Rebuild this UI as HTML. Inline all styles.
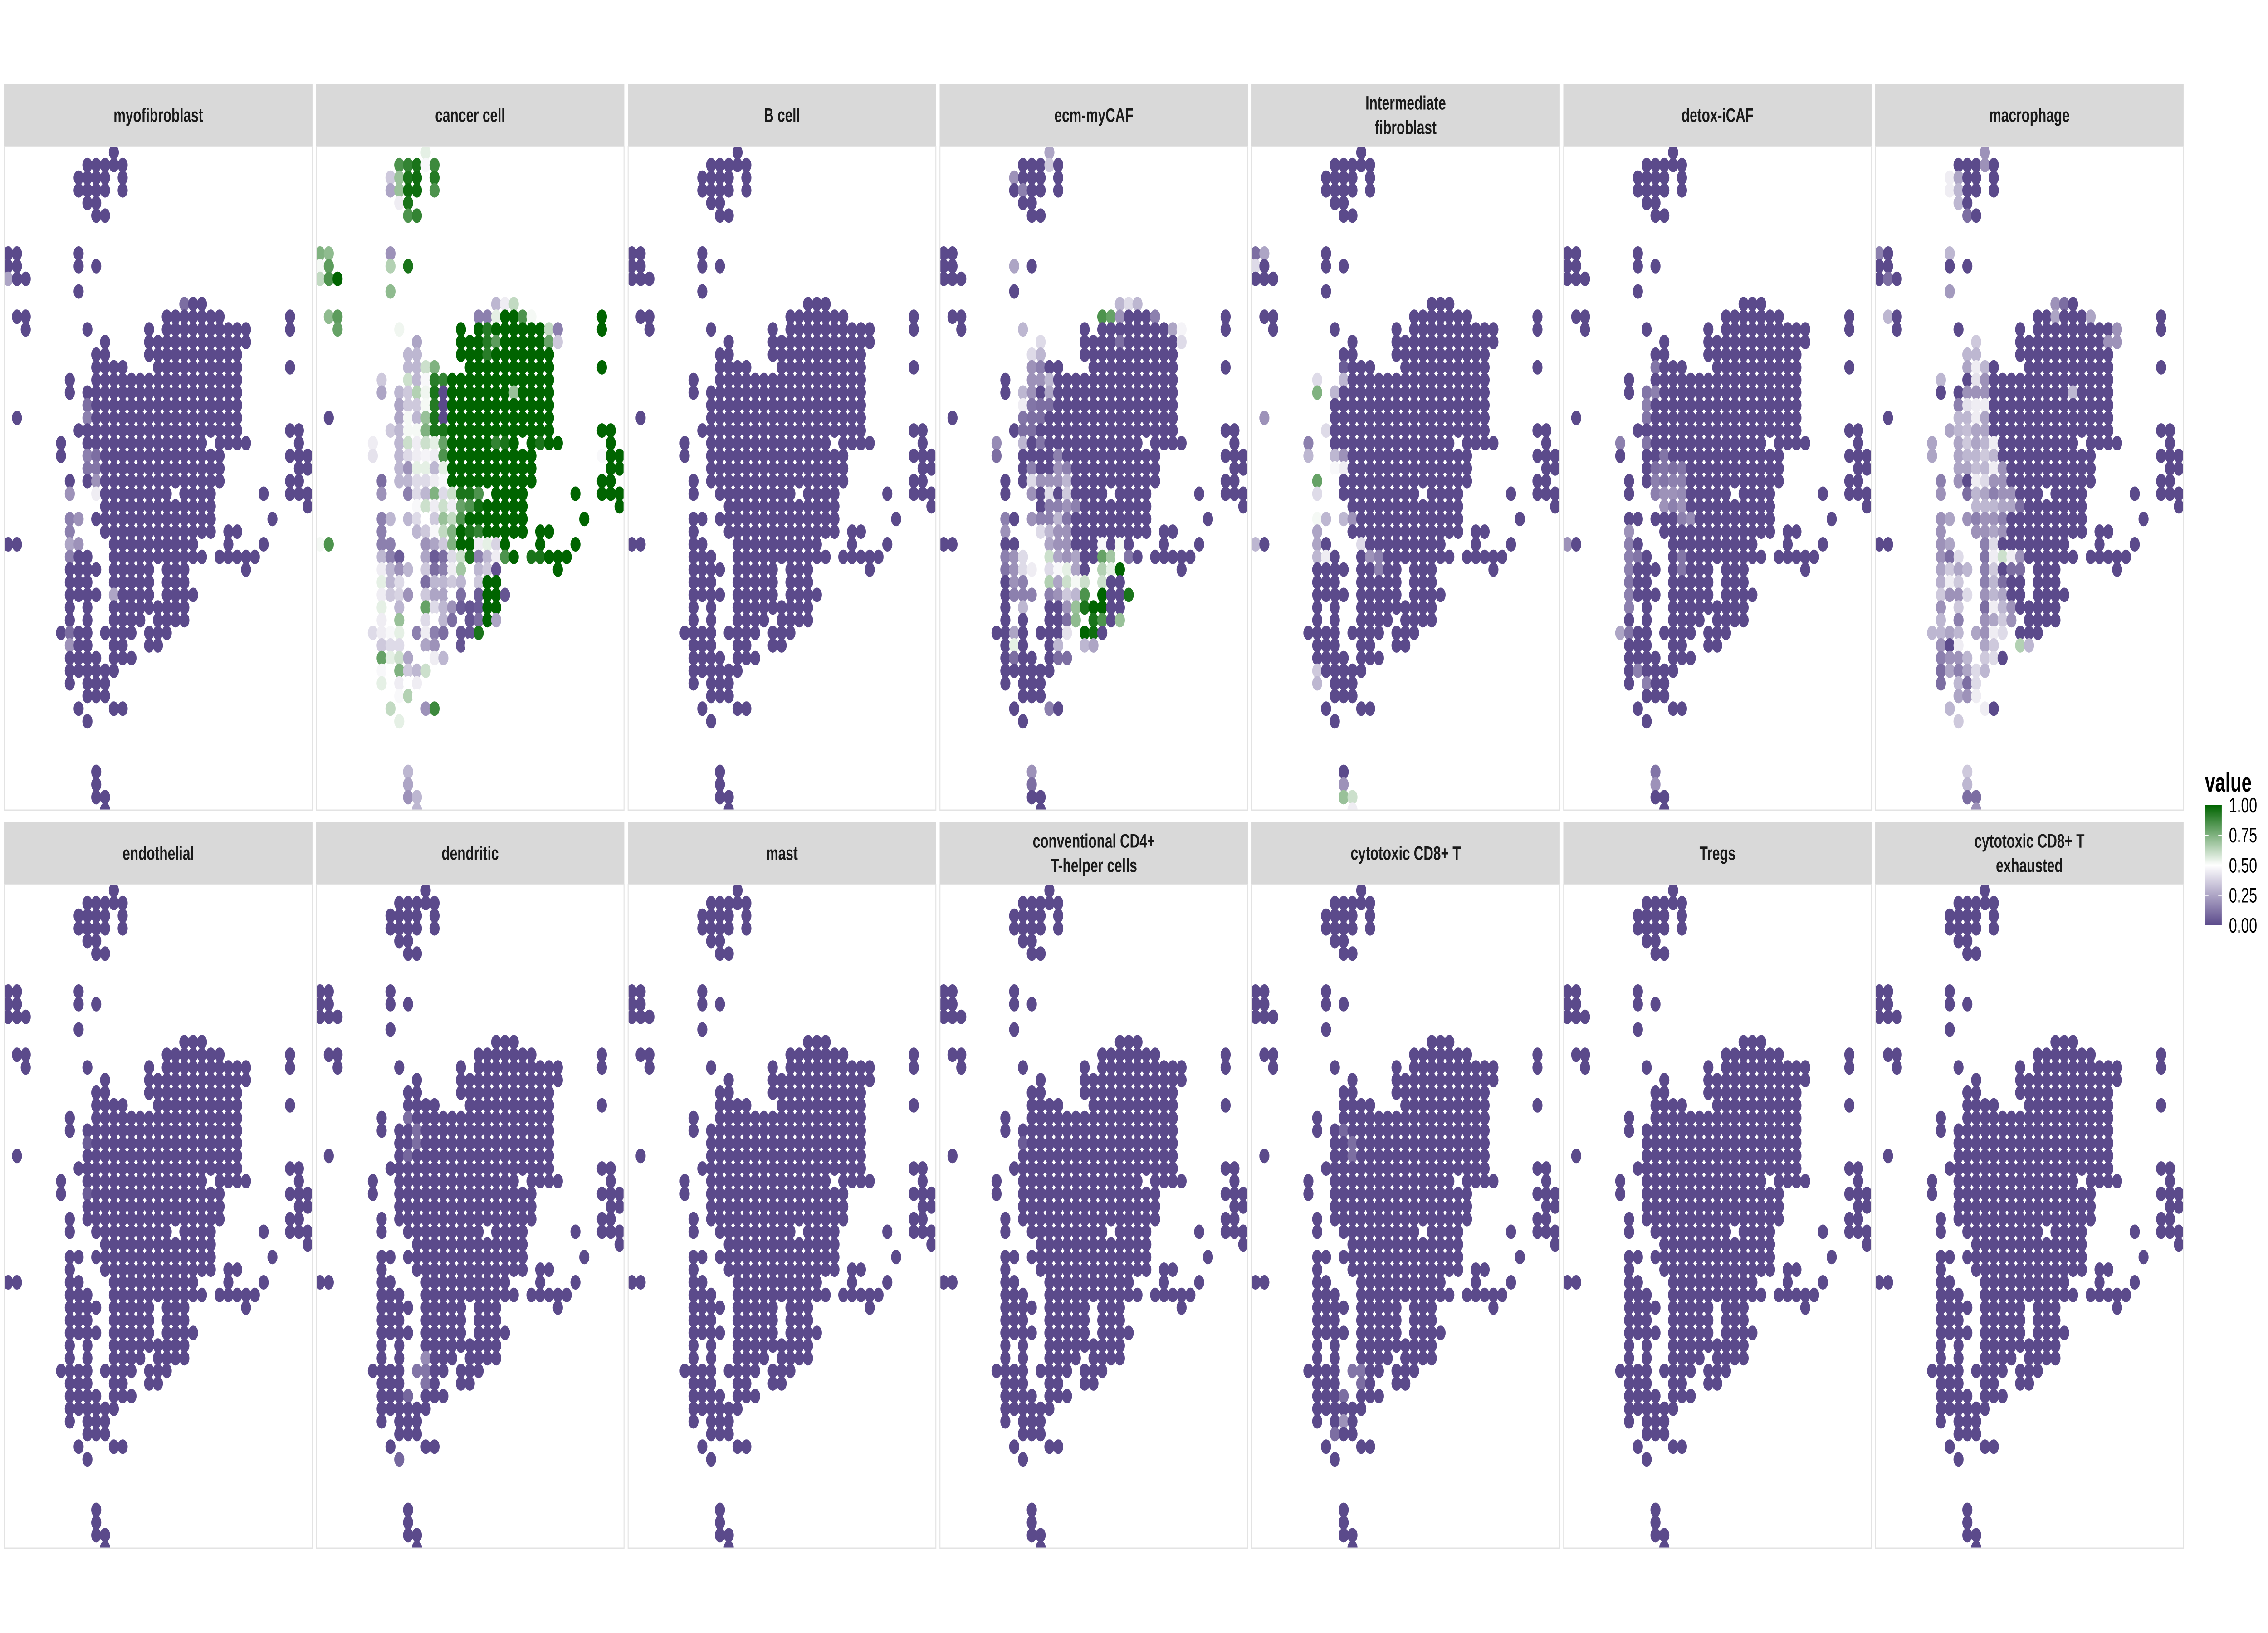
<!DOCTYPE html>
<html>
<head>
<meta charset="utf-8">
<style>
  html,body{margin:0;padding:0;background:#fff;width:100%;height:100%;overflow:hidden;}
  svg{display:block;width:100vw;height:100vh;}
  text{font-family:"Liberation Sans",Arial,sans-serif;}
</style>
</head>
<body>
<svg id="chart" viewBox="0 0 7200 3600" preserveAspectRatio="none" xmlns="http://www.w3.org/2000/svg">
  <defs>
    <linearGradient id="legendGrad" x1="0" y1="1" x2="0" y2="0">
      <stop offset="0" stop-color="#5b4a8b"/>
      <stop offset="0.5" stop-color="#ffffff"/>
      <stop offset="1" stop-color="#006400"/>
    </linearGradient>
  </defs>
  <g>
    <text x="7000" y="1745" font-size="58" font-weight="bold" fill="#000">value</text>
    <rect x="7000" y="1775" width="53" height="265" fill="url(#legendGrad)"/>
    <g id="legendTicks"></g>
  </g>
</svg>
<script>
// ---- data ----
const panelTitles = [
  ["myofibroblast"], ["cancer cell"], ["B cell"], ["ecm-myCAF"], ["Intermediate","fibroblast"], ["detox-iCAF"], ["macrophage"],
  ["endothelial"], ["dendritic"], ["mast"], ["conventional CD4+","T-helper cells"], ["cytotoxic CD8+ T"], ["Tregs"], ["cytotoxic CD8+ T","exhausted"]
];
const legendTicks = [0, 0.25, 0.5, 0.75, 1];
const legendLabels = ["0.00","0.25","0.50","0.75","1.00"];

// spot grid: index = row, entries = column ids ("a-b" = range)
const spotRows = [
  "12","9-13","8-11,13","8-11,13","9,10","10,11","","",
  "0,1,8","0,1,8,10","0-2","8","20-22","1,2,18-24,32","2,9,16,18-27,32","11,16-27",
  "10,11,16-26","10-13,17-26,32","7,10-26","7,9-26","9-26","1,9-26","8-26,32,33","6,9-22,24-27,33",
  "6,9-24,32-34","9-24,33,34","7,9-24,32,33","7,10-18,20-23,29,32-34","11-23,34","7,8,10-23,30","7,11-23,25,26","0,1,7,8,12-21,25,29",
  "7-9,12-22,24-28","7-10,12-16,18-20,27","7-9,12-16,18-20","7-10,12-16,18-21","7,9,12-20","7,9,12-15,17-20","6-9,11-14,16-18","7-9,12,13,16,17",
  "7-10,12-14","7-12","7,9-11","9-11","8,12,13","9","","","","10","10","10,11","11"
];

// per-panel values: [row, col, value] or [row, colFrom, colTo, value]; unlisted spots = 0
const valsMyofibroblast = [[10,0,0.25],[12,20,0.1],[20,9,0.1],[21,9,0.15],[24,9,0.15],[24,10,0.1],[25,9,0.12],[25,10,0.12],[26,10,0.2],[27,7,0.2],[27,10,0.45],[29,7,0.15],[29,8,0.2],[30,7,0.15],[31,7,0.25],[31,8,0.2],[32,7,0.15],[35,12,0.25],[38,7,0.1],[39,7,0.2]];
const valsCancer = [
  [13,15,34,1],[14,15,34,1],[15,15,34,1],[16,15,34,1],[17,15,34,1],[18,15,34,1],[19,15,34,1],[20,15,34,1],[21,15,34,1],[22,15,34,1],[23,15,34,1],[24,15,34,1],[25,15,34,1],[26,15,34,1],[27,15,34,1],[28,15,34,1],[29,15,34,1],[30,15,34,1],[31,15,34,1],[32,15,34,1],[33,15,34,1],
  [0,12,0.55],[1,9,0.85],[1,10,0.9],[1,11,0.95],[1,12,0.48],[1,13,0.88],[2,8,0.35],[2,9,0.7],[2,10,0.95],[2,11,0.97],[2,13,0.93],
  [3,8,0.25],[3,9,0.7],[3,10,0.97],[3,11,0.97],[3,13,0.85],[4,9,0.45],[4,10,0.95],[5,10,0.85],[5,11,0.9],
  [8,0,0.75],[8,1,0.72],[8,8,0.2],[9,0,0.52],[9,1,0.82],[9,8,0.65],[9,10,0.95],[10,0,0.62],[10,1,0.85],[10,2,1],[11,8,0.72],
  [12,20,0.3],[12,21,0.45],[12,22,0.62],[13,1,0.72],[13,2,0.82],[13,18,0.15],[13,19,0.15],[13,20,0.55],[13,23,0.85],[13,24,0.52],
  [14,2,0.8],[14,9,0.53],[14,19,0.93],[14,26,0.62],[14,27,0.15],[15,11,0.25],[15,19,0.93],[15,20,0.82],[15,26,0.8],[15,27,0.35],
  [16,10,0.3],[16,11,0.3],[16,19,0.92],[17,10,0.3],[17,11,0.3],[17,12,0.6],[17,13,0.75],
  [18,7,0.35],[18,10,0.6],[18,11,0.3],[18,12,0.48],[18,13,0.92],[18,14,0.9],
  [19,7,0.25],[19,9,0.3],[19,10,0.35],[19,11,0.65],[19,12,0.53],[19,13,0.95],[19,22,0.7],
  [20,9,0.25],[20,10,0.35],[20,11,0.35],[20,12,0.52],[20,13,0.93],
  [21,9,0.25],[21,10,0.52],[21,11,0.3],[21,12,0.7],[21,13,0.95],
  [22,8,0.35],[22,9,0.3],[22,10,0.52],[22,11,0.52],[22,12,0.75],[22,13,0.95],[22,14,0.95],
  [23,6,0.45],[23,9,0.3],[23,10,0.6],[23,11,0.45],[23,12,0.6],[23,13,0.55],[23,14,0.8],[23,20,0.9],[23,21,0.95],[23,25,0.95],
  [24,6,0.42],[24,9,0.3],[24,10,0.4],[24,11,0.45],[24,12,0.47],[24,13,0.45],[24,14,0.85],[24,32,0.48],
  [25,9,0.3],[25,10,0.2],[25,11,0.55],[25,12,0.55],[25,13,0.3],[25,14,0.55],
  [26,7,0.1],[26,9,0.3],[26,10,0.3],[26,11,0.4],[26,12,0.4],[26,13,0.45],[26,14,0.48],
  [27,7,0.2],[27,10,0.15],[27,11,0.4],[27,12,0.3],[27,13,0.75],[27,14,0.4],[27,15,0.6],[27,16,0.95],[27,17,0.95],[27,18,0.85],
  [28,11,0.48],[28,12,0.6],[28,13,0.45],[28,14,0.6],[28,15,0.45],[28,16,0.8],[28,17,0.85],[28,18,0.97],
  [29,7,0.15],[29,8,0.3],[29,10,0.3],[29,11,0.4],[29,12,0.5],[29,13,0.35],[29,14,0.7],[29,15,0.62],[29,16,0.85],
  [30,7,0.15],[30,11,0.3],[30,12,0.35],[30,13,0.48],[30,14,0.62],[30,15,0.75],[30,17,0.95],[30,18,0.9],
  [31,0,0.52],[31,1,0.85],[31,7,0.15],[31,8,0.15],[31,12,0.2],[31,13,0.25],[31,14,0.35],[31,15,0.75],[31,18,0.45],[31,19,0.55],[31,20,0.38],
  [32,7,0.3],[32,8,0.15],[32,9,0.05],[32,10,0.3],[32,12,0.25],[32,13,0.05],[32,14,0.1],[32,15,0.4],[32,16,0.6],[32,17,0.95],[32,18,0.15],[32,19,0.3],[32,20,0.45],[32,21,0.85],[32,24,0.95],[32,25,0.95],
  [33,7,0.45],[33,8,0.3],[33,9,0.2],[33,10,0.3],[33,12,0.35],[33,13,0.1],[33,14,0.15],[33,15,0.45],[33,16,0.68],[33,17,0.65],[33,18,0.3],[33,19,0.35],[33,20,0.02],
  [34,7,0.55],[34,8,0.3],[34,9,0.4],[34,12,0.1],[34,13,0.3],[34,14,0.3],[34,15,0.35],[34,16,0.3],[34,18,0.35],[34,19,1],[34,20,1],
  [35,7,0.45],[35,8,0.35],[35,9,0.38],[35,10,0.2],[35,12,0.35],[35,13,0.25],[35,14,0.25],[35,15,0.5],[35,16,0.1],[35,18,0.05],[35,19,1],[35,20,1],[35,21,0.03],
  [36,7,0.55],[36,9,0.3],[36,12,0.8],[36,13,0.4],[36,14,0.3],[36,15,0.2],[36,16,0.05],[36,17,0.03],[36,18,0.05],[36,19,1],[36,20,1],
  [37,7,0.45],[37,9,0.7],[37,12,0.4],[37,13,0.5],[37,14,0.3],[37,15,0.1],[37,17,0.03],[37,18,0.1],[37,19,1],[37,20,0.25],
  [38,6,0.4],[38,7,0.45],[38,8,0.48],[38,9,0.55],[38,11,0.15],[38,12,0.45],[38,13,0.15],[38,14,0.1],[38,16,0.03],[38,17,0.03],[38,18,0.95],
  [39,7,0.35],[39,8,0.4],[39,9,0.4],[39,12,0.25],[39,13,0.2],[39,16,0.03],[39,17,0.5],
  [40,7,0.8],[40,8,0.55],[40,9,0.6],[40,10,0.25],[40,12,0.5],[40,13,0.45],[40,14,0.3],
  [41,7,0.48],[41,8,0.5],[41,9,0.75],[41,10,0.35],[41,11,0.3],[41,12,0.6],
  [42,7,0.55],[42,9,0.45],[42,10,0.5],[42,11,0.45],[43,9,0.48],[43,10,0.65],[43,11,0.5],
  [44,8,0.62],[44,12,0.2],[44,13,0.88],[45,9,0.55],[49,10,0.3],[50,10,0.25],[51,10,0.2],[51,11,0.3],[52,11,0.3]
];
const valsBcell = [];
const valsEcm = [
  [0,12,0.25],[1,12,0.35],[2,8,0.2],[3,9,0.15],[8,8,0.5],[9,8,0.25],[12,20,0.3],[12,21,0.4],[12,22,0.3],
  [13,18,0.85],[13,19,0.8],[13,20,0.2],[13,24,0.15],[14,9,0.3],[14,26,0.25],[14,27,0.47],[15,11,0.4],[15,20,0.1],[15,27,0.4],
  [16,10,0.4],[16,11,0.3],[17,10,0.2],[17,11,0.15],[18,10,0.2],[18,11,0.2],[18,12,0.3],[19,9,0.3],[19,10,0.2],[19,12,0.25],
  [20,9,0.45],[20,10,0.12],[20,11,0.1],[20,12,0.1],[21,9,0.12],[21,10,0.1],[21,11,0.1],[22,9,0.1],[22,10,0.1],
  [23,6,0.18],[23,9,0.3],[23,11,0.12],[24,6,0.1],[24,13,0.15],[25,10,0.15],[25,13,0.2],[25,14,0.15],
  [26,10,0.4],[26,11,0.2],[26,12,0.2],[26,13,0.2],[26,14,0.3],[27,10,0.2],[27,12,0.4],[27,14,0.35],
  [28,12,0.15],[28,13,0.15],[28,14,0.2],[28,15,0.15],[29,7,0.15],[29,10,0.2],[29,11,0.15],[29,12,0.15],[29,13,0.3],[29,14,0.12],
  [30,7,0.2],[30,11,0.4],[30,12,0.3],[30,13,0.2],[30,14,0.2],[31,12,0.25],[31,13,0.2],[31,14,0.2],[31,18,0.48],[31,20,0.52],
  [32,7,0.15],[32,8,0.2],[32,9,0.4],[32,12,0.6],[32,13,0.25],[32,14,0.2],[32,15,0.25],[32,18,0.8],[32,19,0.68],[32,20,0.5],[32,21,0.12],
  [33,7,0.12],[33,8,0.2],[33,9,0.4],[33,10,0.45],[33,12,0.4],[33,13,0.48],[33,14,0.55],[33,15,0.25],[33,18,0.65],[33,19,0.55],[33,20,1],
  [34,8,0.2],[34,9,0.15],[34,12,0.65],[34,13,0.25],[34,14,0.6],[34,15,0.52],[34,16,0.6],[34,18,0.6],
  [35,8,0.15],[35,9,0.15],[35,10,0.15],[35,12,0.15],[35,13,0.2],[35,14,0.35],[35,15,0.3],[35,16,0.85],[35,18,1],[35,21,0.95],
  [36,9,0.3],[36,14,0.2],[36,15,0.7],[36,16,0.95],[36,17,1],[36,18,1],[37,14,0.1],[37,15,0.72],[37,17,0.95],[37,18,0.85],[37,20,0.7],
  [38,8,0.25],[38,14,0.42],[38,16,1],[38,17,0.97],[39,8,0.55],[39,13,0.3],[39,16,0.3],[39,17,0.25],[40,8,0.1],[40,13,0.1],[40,14,0.1],
  [44,12,0.15],[49,10,0.2],[50,10,0.1]
];
const valsIntermediate = [
  [8,0,0.1],[8,1,0.25],[9,0,0.4],[17,10,0.05],[18,7,0.4],[18,10,0.3],[19,7,0.75],[19,9,0.3],[21,1,0.2],[22,8,0.4],[23,6,0.15],
  [24,6,0.3],[24,9,0.3],[24,10,0.2],[25,9,0.48],[25,10,0.45],[26,7,0.8],[26,9,0.5],[27,7,0.4],
  [29,7,0.52],[29,8,0.3],[29,10,0.3],[29,11,0.2],[30,7,0.25],[31,0,0.3],[31,7,0.25],[31,12,0.4],
  [32,7,0.3],[32,8,0.45],[32,13,0.2],[32,14,0.15],[33,14,0.15],[41,7,0.35],[42,7,0.3],
  [50,10,0.2],[51,10,0.7],[51,11,0.6],[52,11,0.45]
];
const valsDetox = [
  [17,10,0.12],[19,9,0.12],[19,10,0.15],[20,9,0.15],[21,9,0.12],[23,6,0.15],[23,9,0.12],[24,11,0.12],
  [25,10,0.1],[25,11,0.12],[25,12,0.1],[25,13,0.12],[26,10,0.15],[26,11,0.12],[26,12,0.15],[26,13,0.15],
  [27,10,0.15],[27,11,0.2],[27,12,0.2],[27,13,0.18],[28,11,0.2],[28,12,0.15],[28,13,0.2],[29,13,0.15],[29,14,0.18],
  [30,7,0.2],[31,0,0.2],[31,7,0.15],[32,7,0.15],[32,8,0.12],[32,13,0.12],[33,7,0.15],[33,13,0.12],[34,7,0.12],
  [35,7,0.15],[36,7,0.15],[38,6,0.25],[38,7,0.12],[41,8,0.15],[42,9,0.15],[49,10,0.12],[50,10,0.2]
];
const valsMacrophage = [
  [0,12,0.2],[1,12,0.2],[2,8,0.45],[2,9,0.25],[3,8,0.45],[3,9,0.3],[4,9,0.3],[5,10,0.1],[8,0,0.15],[8,8,0.3],[10,1,0.1],[11,8,0.22],
  [12,20,0.2],[12,21,0.1],[13,1,0.3],[13,20,0.25],[13,24,0.25],[14,27,0.2],[15,11,0.35],[15,26,0.2],[15,27,0.2],
  [16,10,0.3],[16,11,0.3],[17,10,0.25],[17,11,0.45],[17,12,0.3],[18,7,0.3],[18,11,0.42],[18,12,0.2],
  [19,10,0.2],[19,11,0.2],[19,12,0.2],[19,22,0.3],[20,9,0.15],[20,10,0.42],[20,11,0.45],[20,12,0.45],
  [21,9,0.3],[21,10,0.3],[21,11,0.45],[21,12,0.25],[22,8,0.25],[22,9,0.3],[22,10,0.32],[22,11,0.25],[22,12,0.25],
  [23,6,0.25],[23,9,0.25],[23,10,0.35],[23,11,0.25],[23,12,0.3],[23,13,0.45],[24,6,0.25],[24,9,0.25],[24,10,0.3],[24,11,0.3],[24,12,0.35],[24,13,0.3],
  [25,9,0.25],[25,10,0.25],[25,11,0.32],[25,12,0.3],[25,13,0.45],[25,14,0.2],[26,7,0.15],[26,9,0.2],[26,11,0.45],[26,12,0.4],[26,13,0.2],[26,14,0.2],
  [27,7,0.2],[27,10,0.1],[27,11,0.3],[27,12,0.25],[27,13,0.15],[27,14,0.2],[27,15,0.2],
  [28,11,0.3],[28,12,0.3],[28,13,0.3],[28,14,0.25],[28,15,0.25],[28,16,0.1],
  [29,7,0.2],[29,8,0.25],[29,10,0.2],[29,11,0.15],[29,12,0.2],[29,13,0.2],[29,14,0.15],
  [30,7,0.2],[30,11,0.2],[30,12,0.2],[30,13,0.25],[30,14,0.2],[31,7,0.2],[31,8,0.25],[31,12,0.15],[31,13,0.4],
  [32,7,0.2],[32,8,0.1],[32,9,0.4],[32,12,0.12],[32,13,0.45],[32,14,0.6],[32,15,0.45],[32,16,0.2],
  [33,7,0.25],[33,8,0.35],[33,9,0.25],[33,10,0.3],[33,12,0.15],[33,13,0.35],[33,15,0.1],[33,16,0.1],
  [34,7,0.28],[34,8,0.45],[34,9,0.35],[34,12,0.15],[34,13,0.3],[34,14,0.1],
  [35,7,0.35],[35,8,0.2],[35,9,0.2],[35,10,0.4],[35,12,0.2],[35,13,0.3],[35,14,0.25],
  [36,7,0.2],[36,9,0.35],[36,12,0.1],[36,13,0.45],[36,14,0.3],[36,15,0.2],
  [37,7,0.3],[37,9,0.15],[37,12,0.2],[37,13,0.25],[37,14,0.35],[37,15,0.2],
  [38,6,0.3],[38,7,0.3],[38,8,0.25],[38,9,0.3],[38,11,0.25],[38,12,0.2],[38,13,0.45],[38,14,0.4],
  [39,7,0.2],[39,9,0.45],[39,12,0.25],[39,13,0.35],[39,16,0.65],[39,17,0.3],
  [40,7,0.15],[40,8,0.2],[40,9,0.2],[40,10,0.3],[40,12,0.35],[40,13,0.4],
  [41,7,0.1],[41,8,0.25],[41,9,0.15],[41,10,0.25],[41,11,0.4],[41,12,0.3],
  [42,7,0.1],[42,9,0.3],[42,10,0.1],[42,11,0.4],[43,9,0.25],[43,10,0.2],[43,11,0.45],
  [44,8,0.3],[44,12,0.45],[45,9,0.35],[49,10,0.35],[50,10,0.3],[51,10,0.1],[51,11,0.1],[52,11,0.2]
];
const valsEndothelial = [[20,9,0.05],[24,9,0.05]];
const valsDendritic = [[18,10,0.1],[19,11,0.1],[20,11,0.1],[21,10,0.08],[37,12,0.18],[38,11,0.12],[38,12,0.12],[39,12,0.12],[40,10,0.08],[45,9,0.08]];
const valsMast = [];
const valsCD4 = [[20,9,0.05]];
const valsCD8 = [[19,10,0.08],[20,11,0.1],[21,11,0.1],[38,11,0.12],[38,12,0.12],[39,12,0.1],[40,10,0.1],[42,10,0.2],[43,9,0.1]];
const valsTregs = [];
const valsCD8ex = [];
const panelValues = [valsMyofibroblast, valsCancer, valsBcell, valsEcm, valsIntermediate, valsDetox, valsMacrophage,
  valsEndothelial, valsDendritic, valsMast, valsCD4, valsCD8, valsTregs, valsCD8ex];

// ---- layout ----
const SVGNS = "http://www.w3.org/2000/svg";
const svg = document.getElementById("chart");
const PANEL_W = 979, PANEL_H = 1465, STRIP_H = 137, PITCH_X = 990;
const ROW_TOP = [185, 1812];
const SPOT_R = 16, DX = 27.97, DY = 27.87, OX = 12.8, OY = 14;

function xScale(panelLeft, col){ return panelLeft + OX + DX * col; }
function yScale(panelTop, row){ return panelTop + OY + DY * row; }

const LOW = [91,74,139], MID = [255,255,255], HIGH = [0,100,0];
function colorScale(v){
  v = Math.max(0, Math.min(1, v));
  let a, b, t;
  if (v < 0.5){ a = LOW; b = MID; t = v / 0.5; } else { a = MID; b = HIGH; t = (v - 0.5) / 0.5; }
  const c = a.map((x,i)=>Math.round(x + (b[i]-x)*t));
  return "rgb(" + c.join(",") + ")";
}

function parseRow(s){
  const out = [];
  if (!s) return out;
  s.split(",").forEach(p=>{
    if (p.indexOf("-")>=0){ const [a,b]=p.split("-").map(Number); for(let k=a;k<=b;k++) out.push(k); }
    else out.push(Number(p));
  });
  return out;
}
const spots = [];
spotRows.forEach((s,r)=>{ parseRow(s).forEach(k=>spots.push([r,k])); });

function valueMap(list){
  const m = {};
  list.forEach(e=>{
    if (e.length === 4){ for(let k=e[1];k<=e[2];k++) m[e[0]+"_"+k] = e[3]; }
    else m[e[0]+"_"+e[1]] = e[2];
  });
  return m;
}

panelTitles.forEach((title, i)=>{
  const col = i % 7, rw = Math.floor(i / 7);
  const left = 13 + PITCH_X * col;
  const stripTop = ROW_TOP[rw];
  const top = stripTop + STRIP_H;
  const slug = title.join(" ").toLowerCase().replace(/[^a-z0-9]+/g,"-").replace(/-+$/,"");

  const g = document.createElementNS(SVGNS, "g");
  
  
  svg.appendChild(g);

  const strip = document.createElementNS(SVGNS, "rect");
  strip.setAttribute("x", left); strip.setAttribute("y", stripTop);
  strip.setAttribute("width", PANEL_W); strip.setAttribute("height", STRIP_H);
  strip.setAttribute("fill", "#d9d9d9");
  
  
  g.appendChild(strip);

  const cy = stripTop + STRIP_H/2;
  title.forEach((line, li)=>{
    const t = document.createElementNS(SVGNS, "text");
    t.setAttribute("x", left + PANEL_W/2);
    t.setAttribute("y", cy + (li - (title.length-1)/2) * 54 + 15);
    t.setAttribute("text-anchor", "middle");
    t.setAttribute("font-size", "43");
    t.setAttribute("font-weight", "bold");
    t.setAttribute("fill", "#1a1a1a");
    t.textContent = line;
    
    
    g.appendChild(t);
  });

  const clipId = "clip" + i;
  const cp = document.createElementNS(SVGNS, "clipPath");
  cp.setAttribute("id", clipId);
  const cr = document.createElementNS(SVGNS, "rect");
  cr.setAttribute("x", left); cr.setAttribute("y", top);
  cr.setAttribute("width", PANEL_W); cr.setAttribute("height", PANEL_H);
  cp.appendChild(cr);
  svg.querySelector("defs").appendChild(cp);

  const sg = document.createElementNS(SVGNS, "g");
  sg.setAttribute("clip-path", "url(#" + clipId + ")");
  
  
  g.appendChild(sg);

  const vm = valueMap(panelValues[i]);
  spots.forEach(([r,k])=>{
    const v = vm[r+"_"+k] !== undefined ? vm[r+"_"+k] : 0;
    const c = document.createElementNS(SVGNS, "circle");
    c.setAttribute("cx", xScale(left, k).toFixed(1));
    c.setAttribute("cy", yScale(top, r).toFixed(1));
    c.setAttribute("r", SPOT_R);
    c.setAttribute("fill", colorScale(v));
    
    
    sg.appendChild(c);
  });

  const border = document.createElementNS(SVGNS, "rect");
  border.setAttribute("x", left + 1); border.setAttribute("y", top + 1);
  border.setAttribute("width", PANEL_W - 2); border.setAttribute("height", PANEL_H - 2);
  border.setAttribute("fill", "none"); border.setAttribute("stroke", "#e3e3e3"); border.setAttribute("stroke-width", "3");
  
  
  g.appendChild(border);
});

// legend ticks
const lt = document.getElementById("legendTicks");
function legendY(v){ return 2040 - v * 265; }
legendTicks.forEach((v, i)=>{
  const y = legendY(v);
  if (v > 0 && v < 1){
    [[7000,7011],[7042,7053]].forEach(([a,b])=>{
      const l = document.createElementNS(SVGNS, "line");
      l.setAttribute("x1", a); l.setAttribute("x2", b); l.setAttribute("y1", y); l.setAttribute("y2", y);
      l.setAttribute("stroke", "#fff"); l.setAttribute("stroke-width", "2");
      
      
      lt.appendChild(l);
    });
  }
  const t = document.createElementNS(SVGNS, "text");
  t.setAttribute("x", 7076); t.setAttribute("y", y + 16);
  t.setAttribute("font-size", "46"); t.setAttribute("fill", "#000");
  t.textContent = legendLabels[i];
  
  
  lt.appendChild(t);
});
</script>
</body>
</html>
